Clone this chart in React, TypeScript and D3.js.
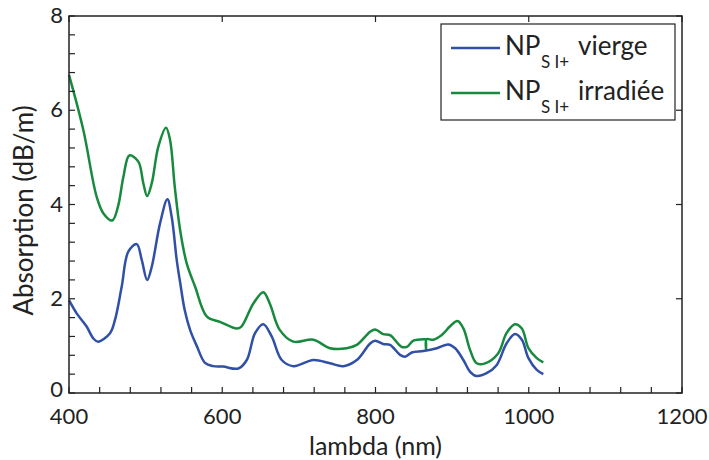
import React from "react";
import * as d3 from "d3";

const xTicks = [400, 600, 800, 1000, 1200];
const yTicks = [0, 2, 4, 6, 8];

const blueX = [400, 410, 423, 431.7, 438, 453.5, 460, 468.8, 477.4, 488.4, 495, 502, 508, 518.8, 528.4, 534, 540.6, 545, 551, 558, 566.7, 577.5, 588, 601, 621, 632, 642.8, 653.6, 664.5, 677.6, 692.8, 719, 740.7, 758, 775.6, 793, 799.5, 810, 819, 832, 838.6, 847.4, 862.5, 880, 895, 904, 914.7, 923.5, 932, 945, 958, 971, 982, 991, 999.6, 1010.5, 1019];
const blueY = [1.97, 1.69, 1.41, 1.16, 1.09, 1.27, 1.55, 2.26, 3.0, 3.16, 2.82, 2.4, 2.68, 3.6, 4.11, 3.74, 2.82, 2.35, 1.76, 1.34, 1.0, 0.64, 0.57, 0.56, 0.52, 0.7, 1.27, 1.46, 1.2, 0.7, 0.57, 0.7, 0.63, 0.57, 0.7, 1.05, 1.11, 1.04, 1.02, 0.81, 0.77, 0.86, 0.89, 0.95, 1.03, 0.95, 0.7, 0.45, 0.36, 0.42, 0.59, 1.05, 1.25, 1.13, 0.74, 0.49, 0.4];

const greenX = [400, 418.7, 436, 445, 456.5, 464, 471, 478.8, 490.5, 497, 502, 508, 516.6, 526.6, 531.9, 538, 545, 553.6, 564.5, 580, 597, 619, 625, 640.6, 653.6, 662, 675, 692.8, 718.9, 740.7, 762.5, 775.6, 793, 799.5, 810, 819, 834, 841, 849.5, 864.7, 865.5, 866, 866.5, 875.6, 886.5, 897, 907, 914.7, 923.5, 932, 943, 960, 971, 982, 991, 999.6, 1010.5, 1019];
const greenY = [6.75, 5.58, 4.17, 3.81, 3.66, 3.96, 4.59, 5.04, 4.91, 4.45, 4.18, 4.45, 5.23, 5.63, 5.37, 4.38, 3.46, 2.75, 2.26, 1.62, 1.51, 1.37, 1.41, 1.9, 2.14, 1.9, 1.34, 1.09, 1.13, 0.95, 0.95, 1.02, 1.3, 1.35, 1.25, 1.23, 0.98, 0.98, 1.11, 1.14, 1.14, 0.93, 1.14, 1.13, 1.23, 1.41, 1.53, 1.37, 0.91, 0.63, 0.63, 0.84, 1.27, 1.46, 1.37, 0.95, 0.74, 0.65];

const seriesNames = ["vierge", "irradiée"];
const BLUE = "#3050a6";
const GREEN = "#178a3e";
const FONT = "Lato, 'Open Sans', sans-serif";

export default function App() {
  const W = 709, H = 460;
  const L = 69, R = 682, T = 16, B = 393;
  const x = d3.scaleLinear().domain([400, 1200]).range([L, R]);
  const y = d3.scaleLinear().domain([0, 8]).range([B, T]);
  const line = d3
    .line<[number, number]>()
    .x((d) => x(d[0]))
    .y((d) => y(d[1]))
    .curve(d3.curveCatmullRom.alpha(0.5));
  const blue = blueX.map((v, i) => [v, blueY[i]] as [number, number]);
  const green = greenX.map((v, i) => [v, greenY[i]] as [number, number]);
  const xMinor = d3.range(400, 1200.1, 40);
  const yMinor = d3.range(0, 8.01, 0.4);
  const tl = 6;

  return (
    <svg width={W} height={H} style={{ position: "absolute", left: 0, top: 0, background: "#fff" }} fontFamily={FONT}>
      <rect x={0} y={0} width={W} height={H} fill="#fff" />
      <path d={line(green) || ""} fill="none" stroke={GREEN} strokeWidth={2.5} />
      <path d={line(blue) || ""} fill="none" stroke={BLUE} strokeWidth={2.5} />
      {xMinor.map((v) => (
        <line key={"xb" + v} x1={x(v)} x2={x(v)} y1={B} y2={B - tl} stroke="#222" strokeWidth={1.2} />
      ))}
      {xTicks.map((v) => (
        <line key={"xt" + v} x1={x(v)} x2={x(v)} y1={T} y2={T + tl} stroke="#222" strokeWidth={1.2} />
      ))}
      {yMinor.map((v) => (
        <line key={"yl" + v} x1={L} x2={L + tl} y1={y(v)} y2={y(v)} stroke="#222" strokeWidth={1.2} />
      ))}
      {yTicks.map((v) => (
        <line key={"yr" + v} x1={R} x2={R - tl} y1={y(v)} y2={y(v)} stroke="#222" strokeWidth={1.2} />
      ))}
      <rect x={L} y={T} width={R - L} height={B - T} fill="none" stroke="#222" strokeWidth={1.5} />
      {xTicks.map((v) => (
        <text key={"xl" + v} x={x(v)} y={424} textAnchor="middle" fontSize={22} fill="#222">
          {v}
        </text>
      ))}
      {yTicks.map((v) => (
        <text key={"ylb" + v} x={63} y={y(v) + (v === 0 ? 4 : 7)} textAnchor="end" fontSize={22} fill="#222">
          {v}
        </text>
      ))}
      <text x={(L + R) / 2} y={454.5} textAnchor="middle" fontSize={25} fill="#222">
        lambda (nm)
      </text>
      <text transform={`translate(33,${(T + B) / 2 + 6}) rotate(-90)`} textAnchor="middle" fontSize={26} fill="#222">
        Absorption (dB/m)
      </text>
      <rect x={441} y={24} width={234} height={96} fill="#fff" stroke="#222" strokeWidth={1.2} />
      {[BLUE, GREEN].map((c, i) => {
        const ly = 48 + i * 45;
        return (
          <g key={"lg" + i}>
            <line x1={451} x2={500} y1={ly} y2={ly} stroke={c} strokeWidth={2.5} />
            <text x={505} y={ly + 7} fontSize={26} fill="#222">
              NP
            </text>
            <text x={541} y={ly + 20} fontSize={17} fill="#222">
              S I+
            </text>
            <text x={578} y={ly + 7} fontSize={26} fill="#222">
              {seriesNames[i]}
            </text>
          </g>
        );
      })}
    </svg>
  );
}
